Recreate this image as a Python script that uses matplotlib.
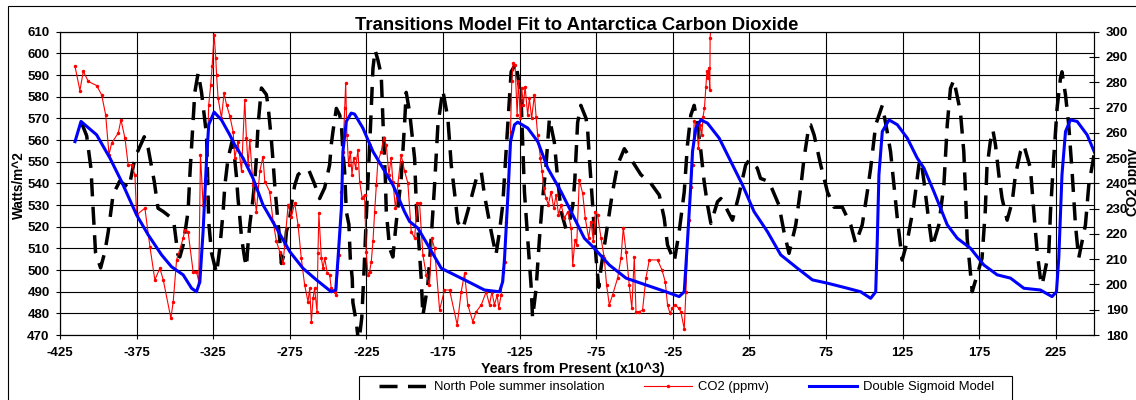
import numpy as np
import matplotlib
matplotlib.use('Agg')
import matplotlib.pyplot as plt
from matplotlib.patches import Rectangle

plt.rcParams['font.family'] = ['Liberation Sans', 'DejaVu Sans']
plt.rcParams['axes.unicode_minus'] = False

# North Pole summer insolation (W/m^2)
ins_year = [-411, -407.6, -404.8, -403.3, -401.8, -398.5, -395.7, -393.5, -390.3, -386,
            -380, -376, -370, -367.4, -363.5, -361, -357.6, -352.2, -350.5, -348,
            -346.8, -344.6, -341.4, -340.2, -337, -334.8, -332.6, -329.3, -327.9, -326.1,
            -322.8, -320.7, -318.5, -317.4, -315.3, -312.8, -311, -309.8, -308.8, -307.7,
            -306.5, -304.4, -303.3, -302.3, -301.1, -299, -297.9, -296.8, -295.7, -293.5,
            -290.3, -289.2, -288.1, -287, -285.9, -284.8, -283.7, -282.7, -281.6, -280.5,
            -278.3, -277.2, -275, -274, -271.8, -269.6, -266.4, -262.5, -259, -255.5,
            -252.2, -249, -247.9, -246.8, -244.6, -242.4, -241.3, -240.3, -239.2, -238.1,
            -236.4, -235.5, -234.2, -233.8, -231.6, -230, -228, -226.5, -225, -224,
            -223, -222.2, -220.7, -219.3, -217.5, -215.3, -213.8, -212.6, -212, -209.8,
            -207.7, -205.5, -202.3, -200.1, -199, -196.8, -193.5, -192.4, -189.2, -188.1,
            -184.9, -182.7, -180.5, -178.3, -175.1, -171.8, -169.6, -167.5, -165.3, -162,
            -157.7, -153.3, -150, -147.9, -143.5, -140.4, -138.1, -136, -132.7, -130.5,
            -127.3, -124, -121.8, -119.7, -117.5, -116.5, -114.2, -112, -109.9, -107.7,
            -105.5, -102.3, -100.1, -97.9, -94.7, -92.5, -90.2, -88.9, -87.1, -85,
            -81.6, -80.5, -79.4, -77.3, -75, -73.3, -71.8, -67.5, -64.3, -61,
            -56.6, -51.2, -45.8, -39.3, -33.8, -30.6, -28.4, -24, -20.8, -17.5,
            -15.4, -13.2, -11, -8.8, -6.6, -4.5, -2.3, -0.1, 4.2, 6.4,
            9.6, 14, 18.2, 22.6, 25, 30.2, 32.3, 37.8, 44.3, 47.6,
            50.9, 55.3, 58.5, 60.7, 64, 65, 67.3, 71.6, 76, 80.3,
            85.7, 91.2, 94.4, 98.7, 102, 104.2, 107.5, 111.8, 115, 117.2,
            119.4, 121.6, 124.8, 128, 132.4, 135.7, 137, 139, 142.2, 144.4,
            148.7, 152, 154.2, 156.3, 158.5, 162.8, 165, 166.1, 167.2, 169.3,
            170.5, 176.9, 179, 180.1, 182.3, 184, 185.7, 187.9, 190, 193.3,
            196.6, 198.7, 202, 204.2, 208.5, 210.7, 212.9, 215, 216.1, 220.5,
            221.6, 223.7, 225.9, 228.1, 229.1, 231.4, 233.5, 235.7, 237.9, 240,
            244.4, 246.6, 250]
ins_watts = [568, 562, 547, 527, 508, 501, 508.4, 517.7, 535, 541,
             538, 552, 561.5, 556, 541, 528.5, 527, 524, 521, 507,
             506, 511.5, 527, 544, 582, 591, 582, 562, 522, 508,
             498.5, 510, 527, 539, 551.5, 559, 551.5, 543, 533, 525,
             515, 505, 501.5, 511.5, 521, 533, 541, 551.5, 567, 584,
             581, 576, 568, 560, 550, 539, 530, 522, 514.6, 503,
             508.4, 517.7, 524, 530, 539, 544, 546, 546, 540, 533,
             538, 548.5, 558, 564, 574.6, 571.5, 567, 554.6, 545.4, 527,
             521, 505.4, 496, 485, 476, 466, 478, 500, 525, 540,
             555, 568, 593, 601.5, 597, 590, 562, 542, 527, 510,
             506, 522, 542, 567, 582, 573, 551.5, 530, 496, 479,
             493, 514.6, 539, 567, 583, 570, 548.5, 536, 522, 519,
             530, 542, 545.4, 534.6, 517.7, 507, 517.7, 530, 567, 591.5,
             595.4, 579, 536, 514.6, 493, 478, 491.5, 514.6, 533, 548.5,
             570, 559, 542, 527, 519, 522, 530, 542, 568, 576,
             570, 564, 551.5, 530, 505, 492, 501, 521, 536, 548.5,
             556, 550, 544, 540, 534.6, 524, 511.5, 504, 517.7, 536,
             557.7, 571.5, 576, 567, 554.6, 540.8, 530, 521.5, 531.5, 533,
             529, 523, 534.6, 548.5, 550.8, 547, 542.3, 540.8, 530, 517.7,
             507.7, 520.8, 537.7, 551.5, 567, 567, 562.3, 548.5, 536, 529,
             529, 520.8, 512.3, 520.8, 536, 547, 567, 576, 563.8, 554.6,
             539.2, 523.8, 504.6, 513, 530, 548.5, 551, 541, 522.3, 510.8,
             520.8, 539.2, 567, 583.8, 587.7, 573, 554.6, 536, 514.6, 499.2,
             490, 505.4, 527, 547, 559.2, 564.6, 557.7, 543.8, 533, 523,
             531.5, 543.8, 554.6, 557.7, 547, 527, 508.4, 496.2, 493, 508.4,
             527, 551.5, 574.6, 588.5, 591.5, 580.8, 567, 545.4, 520.8, 505.4,
             520.8, 539.2, 553]

# CO2 (ppmv)
co2_year = [-415.2, -412, -409.8, -406.5, -401.1, -397.8, -395.2, -393, -391.3, -387,
            -385.2, -382.6, -380.5, -378.3, -376.1, -375, -369.6, -366.3, -363.1, -359.8,
            -357.6, -352.6, -351.1, -348.9, -344.6, -343.5, -341.4, -338.1, -335.9, -334.4,
            -333.3, -331.6, -330.5, -329.4, -327.9, -326.6, -325.7, -324.4, -323.3, -322.8,
            -321.8, -319.6, -317.9, -316.3, -314.2, -312, -310.9, -308.8, -306.5, -304.4,
            -303.3, -302.2, -301.1, -299, -296.8, -294.6, -292.5, -291.3, -288.1, -285.9,
            -283.7, -281.6, -279.4, -278.3, -276.1, -273.9, -271.8, -269.6, -267.5, -265.3,
            -263.1, -262, -260.9, -259.8, -258.8, -257.2, -256.6, -256, -254.4, -253.3,
            -252.2, -250.5, -249, -247.9, -245.7, -244.6, -242.9, -241.3, -240.3, -239.2,
            -238.5, -237.7, -236.6, -235.5, -234.4, -233.3, -232, -230.5, -229.4, -227.7,
            -226.2, -225.1, -224, -222.9, -221.8, -220.7, -219.6, -218.5, -217.5, -215.3,
            -213.8, -212, -210.3, -208.8, -207.7, -206, -204.5, -202.3, -200.1, -197.9,
            -195.7, -193.5, -191.8, -190.3, -188.1, -185.9, -183.8, -182.3, -180.5, -177.2,
            -174, -170.7, -165.7, -163.1, -160.9, -158.8, -155.5, -153.3, -150, -146.8,
            -144.6, -143.1, -141.4, -139.6, -138.6, -137, -136, -134.8, -133.8, -132.3,
            -130.9, -130.1, -129.2, -127.9, -126.6, -125.7, -124.4, -123.6, -122.5, -121.4,
            -119.7, -118.6, -117.1, -115.3, -114.2, -113.2, -111.4, -110.3, -109.2, -107.7,
            -106.2, -104.4, -102.7, -101.1, -99.6, -97.9, -95.7, -93.5, -91.3, -90.3,
            -88.8, -87.7, -86, -83.8, -82.1, -79.9, -78.4, -76.8, -75.5, -74.1,
            -71.8, -69.7, -68.2, -66.4, -64.3, -61, -58.8, -57.3, -55.5, -53.4,
            -51.7, -50.1, -49, -46.8, -44.7, -42.5, -40.3, -34.9, -32, -29.9,
            -28.4, -26.8, -25.2, -23.4, -21.2, -19.7, -17.5, -16.4, -14.7, -13.2,
            -12.1, -11, -9.5, -8.2, -7.1, -6, -5.2, -4.3, -3.4, -2.7,
            -2.1, -1.4, -0.8, -0.6, -0.1]
co2_ppmv = [286.3, 276.7, 284.3, 280.3, 278.7, 275, 267.1, 251.3, 255.9, 259.9,
            265.1, 257.9, 247.3, 247.3, 243.4, 227.5, 230.2, 215, 201.8, 206.4,
            201.8, 186.6, 193.2, 209.7, 218.3, 221.6, 220.9, 205.1, 205.1, 201.1,
            251.3, 231.5, 234.1, 242.1, 271.1, 279, 286.3, 298.8, 289.6, 283,
            273.7, 265.8, 275.7, 271.1, 266.8, 260.5, 250, 256.5, 244.7, 273.1,
            257.9, 247.3, 257.2, 239.4, 228.8, 244.7, 250.6, 240.7, 236.7, 224.9,
            217, 213, 208.4, 215.6, 231.5, 226.8, 232.2, 223.6, 210.4, 199.8,
            193.2, 198.5, 185.3, 194.5, 198.5, 189.2, 212.4, 228.2, 210.4, 206.4,
            210.4, 204.4, 203.8, 198.5, 197.1, 195.8, 211.7, 236.7, 252.6, 269.8,
            279.7, 259.2, 247.3, 252.6, 243.4, 250, 246, 253.3, 240.7, 234.1,
            235.4, 213, 203.8, 205.1, 209, 217, 228.8, 239.4, 248.6, 252.6,
            257.9, 255.2, 243.4, 250, 240.7, 230.2, 239.4, 251.3, 245, 240,
            220.9, 218.3, 232.2, 232.2, 211.7, 203.8, 199.8, 218.3, 214.3, 189.9,
            197.8, 197.8, 184, 197.1, 204.4, 191.9, 185.3, 189.2, 191.9, 197.1,
            191.9, 197.1, 191.9, 195.8, 190.6, 195.8, 205.1, 209, 224.9, 240.7,
            260.5, 280.3, 287.6, 286.9, 267.1, 280.3, 265.8, 277.7, 271.1, 278.3,
            267.1, 273.7, 265.8, 275, 266.4, 259.2, 250, 244.7, 238.1, 234.1,
            231.5, 236.7, 230.2, 235.4, 227.5, 231.5, 226.2, 228.8, 222.3, 207.7,
            217.6, 215.6, 241.4, 236, 226.2, 218.3, 224.9, 217, 228.8, 227.5,
            218.3, 210.4, 199.8, 191.9, 195.8, 202.5, 210.4, 222.3, 213, 199.8,
            190.6, 211, 189.2, 189.2, 189.9, 202.5, 209.7, 209.7, 205.7, 201.1,
            191.9, 188.6, 190.6, 191.9, 190.6, 189.2, 182.4, 197.1, 225.5, 238.7,
            247.3, 264.5, 263.2, 253.9, 263.2, 259.2, 266.4, 269.8, 278.3, 284.3,
            281.7, 285.6, 277, 297.5, 302]

# Double Sigmoid Model (ppmv)
model_year = [-415.2, -411.3, -401.1, -392.4, -384.8, -375, -367.4, -358.7, -352.2, -344.6,
              -339.1, -335.9, -333.7, -331.6, -329.3, -327.9, -324.4, -319.6, -314.2, -310.9,
              -305.5, -299, -292.5, -283.7, -275, -266.4, -257.6, -247.9, -245, -243.5,
              -241.3, -240.3, -238.1, -234.9, -232.7, -227.3, -220.7, -214.2, -207.7, -200.1,
              -196.8, -191.4, -184.9, -176.1, -167.5, -156.6, -147.9, -138.1, -136, -134.8,
              -132.7, -130.9, -128.3, -126.2, -119.7, -113.1, -106.6, -97.9, -89.2, -86,
              -82.7, -77.3, -66.4, -55.5, -42.5, -29.4, -20.8, -17.5, -15.4, -13.2,
              -12.1, -9.9, -6.6, -2.3, 5.3, 11.8, 20.5, 28.1, 36.8, 45.5,
              56.4, 66.2, 76, 89, 97.7, 104.2, 107.5, 108.5, 109.6, 111.8,
              116.2, 121.6, 128.1, 134.6, 139, 145.5, 154.2, 160.7, 169.4, 178.1,
              186.8, 195.5, 204.2, 215, 222.6, 225.5, 227, 229.1, 231.4, 234.6,
              239, 245.5, 251]
model_ppmv = [256.5, 264.5, 259.2, 250, 240.7, 227.5, 219.6, 211.7, 207, 203.8,
              198.5, 197.1, 201.1, 220.9, 250, 263.2, 268.2, 265.1, 259.2, 255.2,
              250, 242, 231.5, 222.3, 213, 206.4, 201.8, 197.1, 197.8, 210.4,
              230.2, 252.6, 264.5, 267.8, 267.4, 261.9, 252.6, 246, 239.4, 228.8,
              224.9, 222.3, 215.6, 206.4, 203.8, 200.5, 197.8, 197.1, 201.1, 210.4,
              234.1, 256.5, 263.2, 264.2, 261.9, 256.5, 246, 236.7, 226.2, 222.3,
              218.3, 215, 207.7, 202.5, 199.8, 197.1, 195.2, 197.1, 217, 239.4,
              252.6, 261.9, 265.1, 263.8, 257.9, 250, 239.4, 228.8, 220.9, 211.7,
              206.4, 201.8, 200.5, 198.5, 197.1, 194.5, 197.1, 217, 243.4, 260.5,
              265.1, 263.2, 257.9, 250, 246, 236.7, 223.6, 218.3, 214.3, 207.7,
              203.8, 202.5, 198.5, 197.8, 195.2, 197.1, 210.4, 243.4, 260.5, 265.1,
              264.5, 259.2, 251.3]

x_ticks = list(range(-425, 250, 50))
left_ticks = list(range(470, 611, 10))
right_ticks = list(range(180, 301, 10))

W, H = 1136, 400
fig = plt.figure(figsize=(W / 100, H / 100), dpi=100)
fig.patch.set_facecolor('white')

ax1 = fig.add_axes([60 / W, 1 - 335 / H, (1094 - 60) / W, (335 - 31.7) / H])
ax1.set_xlim(-425, 250)
ax1.set_ylim(470, 610)
ax1.set_xticks(x_ticks)
ax1.set_yticks(left_ticks)
ax1.grid(True, color='black', linewidth=0.8)
ax1.set_axisbelow(True)
for s in ax1.spines.values():
    s.set_color('black')
    s.set_linewidth(0.8)

ax1.tick_params(axis='x', direction='out', length=3, width=0.8, pad=6)
ax1.tick_params(axis='y', direction='out', length=3, width=0.8, pad=4.5)
for lab in ax1.get_xticklabels() + ax1.get_yticklabels():
    lab.set_fontsize(9.5)
    lab.set_fontweight('bold')

l1, = ax1.plot(ins_year, ins_watts, color='black', linewidth=2.5,
               linestyle=(0, (5.2, 3)), label='North Pole summer insolation')

ax2 = ax1.twinx()
ax2.set_ylim(180, 300)
ax2.set_yticks(right_ticks)
ax2.tick_params(axis='y', direction='inout', length=7, width=0.8, pad=5)
for lab in ax2.get_yticklabels():
    lab.set_fontsize(9.5)
    lab.set_fontweight('bold')
for s in ax2.spines.values():
    s.set_color('black')
    s.set_linewidth(0.8)

l2, = ax2.plot(co2_year, co2_ppmv, color='#ff0000', linewidth=0.8,
               marker='.', markersize=3, label='CO2 (ppmv)')
l3, = ax2.plot(model_year, model_ppmv, color='#0000ff', linewidth=2.2,
               label='Double Sigmoid Model')

# texts
fig.text(577 / W, 1 - 30 / H, 'Transitions Model Fit to Antarctica Carbon Dioxide',
         ha='center', va='baseline', fontsize=13.3, fontweight='bold')
fig.text(573 / W, 1 - 372.5 / H, 'Years from Present (x10^3)',
         ha='center', va='baseline', fontsize=10.3, fontweight='bold')
fig.text(19 / W, 1 - 185 / H, 'Watts/m^2', rotation=90,
         ha='center', va='center', fontsize=9.8, fontweight='bold')
fig.text(1126 / W, 1 - 182 / H, 'CO2 ppmv', rotation=90,
         ha='left', va='center', fontsize=9.8, fontweight='bold')

# outer chart border and legend box
fig.add_artist(Rectangle((8 / W, -0.1), 1.2, (H - 6) / H + 0.1, transform=fig.transFigure,
                         fill=False, edgecolor='black', linewidth=0.8))
fig.add_artist(Rectangle((359 / W, -0.05), (1012 - 359) / W, (H - 376) / H + 0.05,
                         transform=fig.transFigure, facecolor='white',
                         edgecolor='black', linewidth=0.8))

fig.legend(handles=[l1, l2, l3], loc='center left',
           bbox_to_anchor=(379 / W, 1 - 387 / H), ncol=3, frameon=False,
           fontsize=9.4, handlelength=3.7, handletextpad=0.5, columnspacing=3.0,
           borderpad=0, borderaxespad=0)

fig.savefig('out.png', dpi=100)
